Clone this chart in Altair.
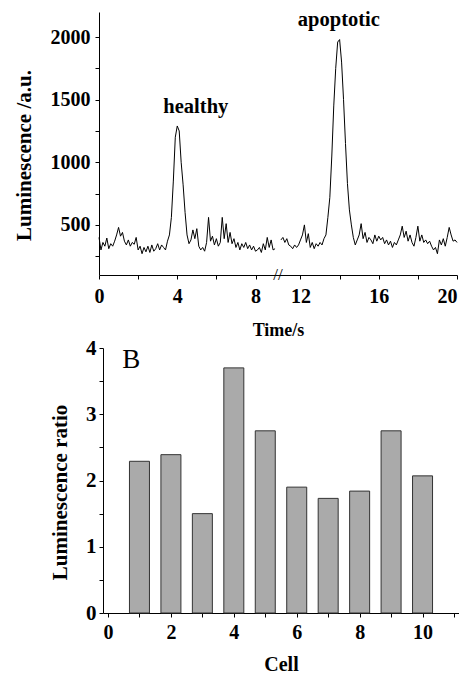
import altair as alt
import numpy as np
import pandas as pd

FONT = "Liberation Serif"

# ---------------- Panel A: luminescence trace ----------------
# sampled every 0.1 s; left segment 0–9 s, right segment 11–20 s (axis break in between)
left_values = [
    400, 300, 360, 330, 395, 310, 350, 330, 370, 420,
    480, 410, 440, 370, 340, 380, 330, 360, 345, 400,
    300, 330, 270, 320, 285, 330, 280, 340, 290, 310,
    350, 300, 340, 320, 300, 370, 420, 560, 850, 1200,
    1290, 1250, 1000, 820, 600, 420, 350, 380, 460, 390,
    470, 330, 300, 320, 290, 360, 560, 370, 410, 340,
    390, 330, 360, 560, 390, 510, 360, 440, 350, 390,
    320, 360, 300, 350, 320, 360, 310, 340, 300, 330,
    290, 300, 320, 280, 350, 300, 400, 320, 380, 300,
    310,
]
right_values = [
    380, 400, 360, 390, 340, 330, 310, 340, 320, 340,
    380, 420, 500, 360, 430, 320, 360, 310, 350, 330,
    360, 340, 390, 420, 560, 720, 1050, 1450, 1750, 1960,
    1980, 1800, 1500, 1150, 830, 620, 500, 400, 340, 380,
    420, 510, 390, 440, 360, 400, 380, 350, 420, 370,
    410, 380, 400, 350, 380, 340, 370, 320, 360, 340,
    380, 420, 490, 400, 450, 370, 420, 360, 330, 400,
    490, 370, 420, 360, 380, 350, 370, 330, 300, 320,
    270, 380, 340, 390, 330, 400, 480, 420, 370, 380,
    360,
]
left_start, right_start, step = 0.0, 11.0, 0.1
BREAK_SHIFT = 1.7  # the 9–11 s gap is compressed on the axis

x_tick_times = [0, 2, 4, 6, 8, 12, 14, 16, 18, 20]
y_tick_values = [250, 500, 750, 1000, 1250, 1500, 1750, 2000]

peak_labels = ["healthy", "apoptotic"]
peak_label_time = [4.95, 13.96]
peak_label_value = [1390, 2087]

# ---------------- Panel B: luminescence ratio per cell ----------------
cells = [1, 2, 3, 4, 5, 6, 7, 8, 9, 10]
ratios = [2.29, 2.39, 1.50, 3.70, 2.75, 1.90, 1.73, 1.84, 2.75, 2.07]


def to_display(t):
    return t if t <= 9.5 else round(t - BREAK_SHIFT, 3)


t_left = np.round(left_start + step * np.arange(len(left_values)), 2)
t_right = np.round(right_start + step * np.arange(len(right_values)), 2)
line_df = pd.DataFrame({
    "d": [to_display(t) for t in t_left] + [to_display(t) for t in t_right],
    "v": left_values + right_values,
    "seg": ["a"] * len(left_values) + ["b"] * len(right_values),
})
label_df = pd.DataFrame({
    "d": [to_display(t) for t in peak_label_time],
    "v": peak_label_value,
    "label": peak_labels,
})
break_df = pd.DataFrame({"d": [9.15], "v": [100], "label": ["//"]})

axis_common = dict(
    grid=False, domainColor="black", tickColor="black", labelColor="black",
    titleColor="black", labelFont=FONT, titleFont=FONT, labelFontWeight="bold",
    titleFontWeight="bold", tickSize=4, domainWidth=1, tickWidth=1,
    labelFlush=False, labelOverlap=False,
)

xlab = "(datum.value > 9.5 ? round(datum.value + %s) : round(datum.value))" % BREAK_SHIFT
xA_scale = alt.Scale(domain=[0, 18.3], nice=False, zero=False)
yA_scale = alt.Scale(domain=[100, 2200], nice=False, zero=False)

xA = alt.X("d:Q", scale=xA_scale, axis=alt.Axis(
    title="Time/s", values=[to_display(t) for t in x_tick_times],
    labelExpr="%s %% 4 == 0 ? '' + %s : ''" % (xlab, xlab),
    labelAlign={"condition": {"test": "datum.value > 18", "value": "right"},
                "value": "center"},
    labelFontSize=20, titleFontSize=18, labelPadding=7, titlePadding=15,
    **axis_common))
yA = alt.Y("v:Q", scale=yA_scale, axis=alt.Axis(
    title="Luminescence /a.u.", values=y_tick_values, format="d",
    labelExpr="datum.value % 500 == 0 ? datum.label : ''",
    labelFontSize=20, titleFontSize=21, labelPadding=5, titlePadding=16,
    titleY=143, **axis_common))

line = alt.Chart(line_df).mark_line(color="black", strokeWidth=1).encode(
    detail="seg:N", order="d:Q")
peaks = alt.Chart(label_df).mark_text(
    font=FONT, fontWeight="bold", fontSize=20.5, baseline="alphabetic",
    align="center", color="black").encode(text="label:N")
brk = alt.Chart(break_df).mark_text(
    font=FONT, fontSize=17, baseline="middle", align="center", color="black").encode(
    text="label:N")

top = alt.layer(line, peaks, brk).encode(x=xA, y=yA).properties(width=358, height=263)

# ---------------- Panel B chart ----------------
bar_df = pd.DataFrame({"cell": cells, "ratio": ratios})
b_df = pd.DataFrame({"cell": [0.74], "ratio": [3.70], "label": ["B"]})

xB_scale = alt.Scale(domain=[0, 11], nice=False, zero=False, range=[4, 360])
yB_scale = alt.Scale(domain=[0, 4], nice=False)

xB = alt.X("cell:Q", scale=xB_scale, axis=alt.Axis(
    title="Cell", values=list(range(0, 12)), format="d",
    labelExpr="datum.value % 2 == 0 && datum.value <= 10 ? datum.label : ''",
    labelFontSize=20, titleFontSize=20, labelPadding=5, titlePadding=12,
    **axis_common))
yB = alt.Y("ratio:Q", scale=yB_scale, axis=alt.Axis(
    title="Luminescence ratio", values=[0, 0.5, 1, 1.5, 2, 2.5, 3, 3.5, 4],
    labelExpr="datum.value % 1 == 0 ? '' + datum.value : ''", offset=-4,
    labelFontSize=21, titleFontSize=21, labelPadding=3, titlePadding=15,
    titleY=144, **axis_common))

bars = alt.Chart(bar_df).mark_bar(
    size=20, fill="#aaaaaa", stroke="#333333", strokeWidth=1).encode()
btxt = alt.Chart(b_df).mark_text(
    font=FONT, fontSize=27, baseline="alphabetic", align="center", color="black").encode(
    text="label:N")

bottom = alt.layer(bars, btxt).encode(x=xB, y=yB).properties(width=360, height=265)

chart = alt.vconcat(top, bottom, spacing=-2).properties(
    padding={"left": 5, "top": 2, "right": 0, "bottom": 0},
    background="white",
).configure_view(stroke=None)

chart.save("out.html", embed_options={"renderer": "svg", "actions": False})
